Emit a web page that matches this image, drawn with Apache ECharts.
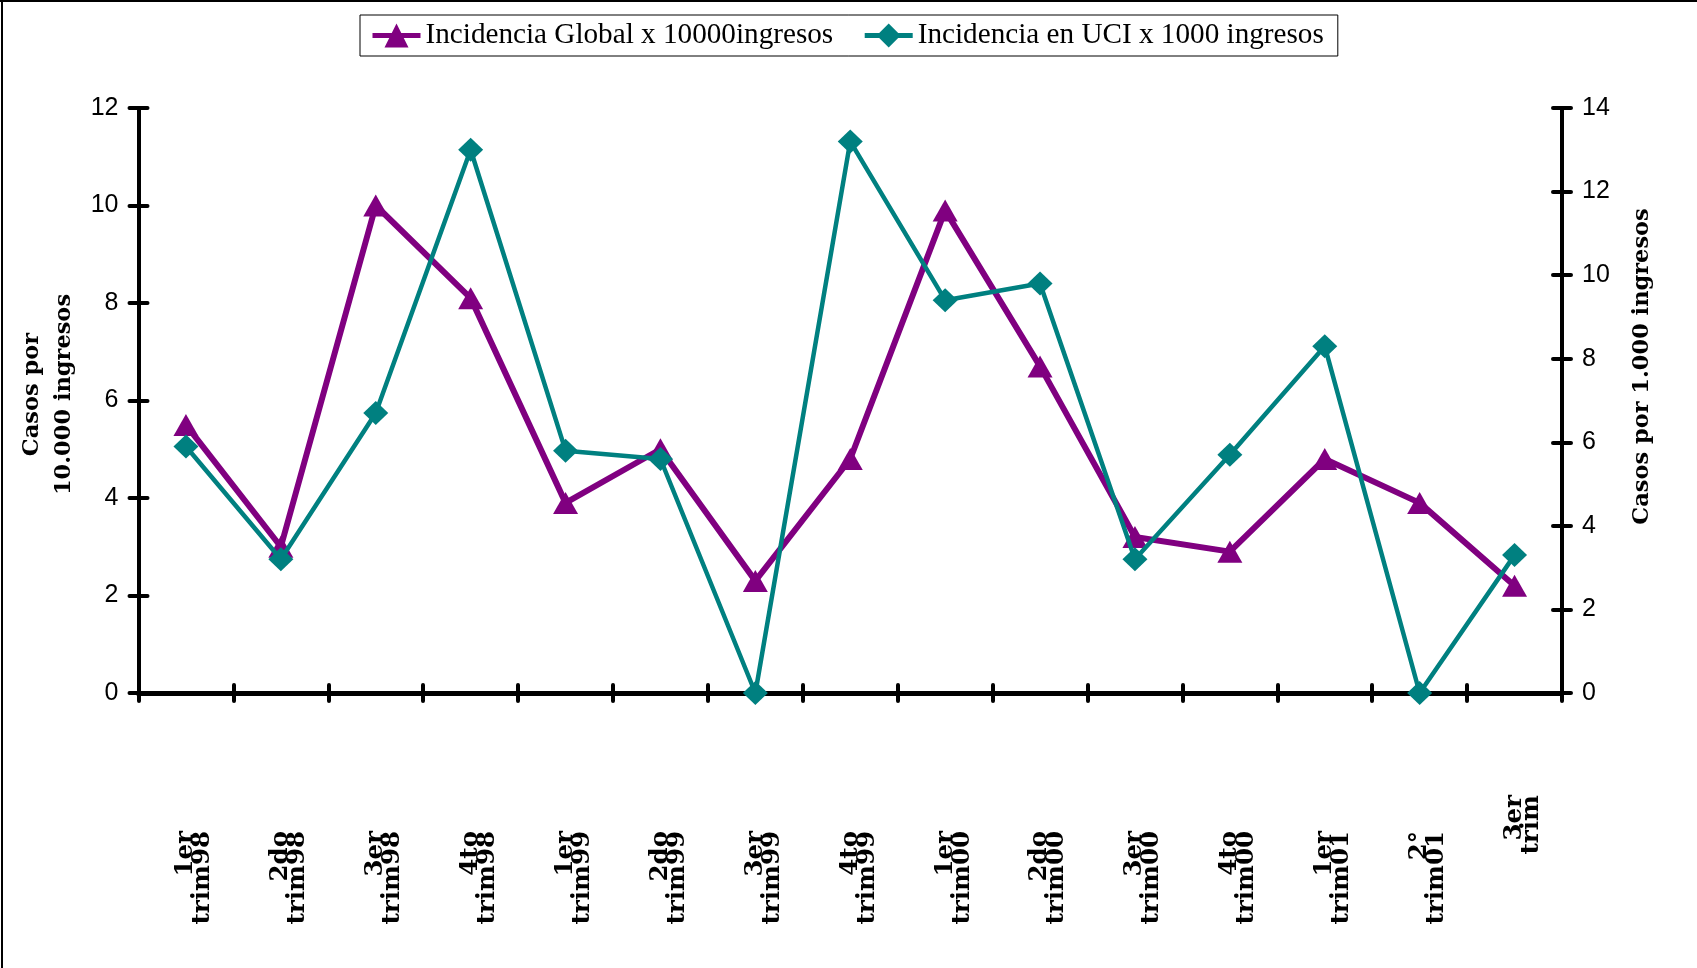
<!DOCTYPE html>
<html>
<head>
<meta charset="utf-8">
<script src="https://cdn.jsdelivr.net/npm/echarts@6/dist/echarts.min.js"></script>
<style>
  html, body { margin: 0; padding: 0; background: #fff; }
  #chart { width: 1697px; height: 968px; }
</style>
</head>
<body>
<div id="chart"></div>
<script>
// Quarterly labels (two lines each)
const categories = [
  '1er\ntrim98', '2do\ntrim98', '3er\ntrim98', '4to\ntrim98',
  '1er\ntrim99', '2do\ntrim99', '3er\ntrim99', '4to\ntrim99',
  '1er\ntrim00', '2do\ntrim00', '3er\ntrim00', '4to\ntrim00',
  '1er\ntrim01', '2°\ntrim01', '3er\ntrim'
];

// Global incidence, cases per 10,000 admissions (left axis)
const globalIncidence = [5.5, 3.0, 10.0, 8.1, 3.9, 5.0, 2.3, 4.8, 9.9, 6.7, 3.2, 2.9, 4.8, 3.9, 2.2];

// ICU incidence, cases per 1,000 admissions (right axis)
const uciIncidence = [5.9, 3.2, 6.7, 13.0, 5.8, 5.6, 0, 13.2, 9.4, 9.8, 3.2, 5.7, 8.3, 0, 3.3];

// Axis scales
const leftAxisMax = 12;
const rightAxisMax = 14;
const axisStep = 2;

const seriesNames = ['Incidencia Global x 10000ingresos', 'Incidencia en UCI x 1000 ingresos'];
const leftTitle = 'Casos por\n10.000 ingresos';
const rightTitle = 'Casos por 1.000 ingresos';

const PURPLE = '#800080';
const TEAL = '#008080';
const SERIF_BOLD = '"DejaVu Serif", serif';
const SANS = '"Liberation Sans", Arial, sans-serif';

const chart = echarts.init(document.getElementById('chart'), null, { renderer: 'canvas' });

// Category entries; the last, shorter label sits closer to the axis
const lastIdx = categories.length - 1;
const categoryItems = categories.map((c, i) => (
  i === lastIdx
    ? { value: c, textStyle: { padding: [0, 0, 0, 0] } }
    : { value: c, textStyle: { padding: [0, 36, 0, 0] } }
));

const axisLineStyle = { color: '#000', width: 4 };
const tickStyle = { color: '#000', width: 4, cap: 'round' };

chart.setOption({
  backgroundColor: '#fff',
  animation: false,
  legend: {
    left: 360,
    top: 15,
    padding: [6, 14, 6, 10],
    itemGap: 29,
    itemWidth: 48,
    itemHeight: 30,
    borderColor: '#000',
    borderWidth: 1,
    borderRadius: 0,
    lineStyle: { width: 5 },
    textStyle: { fontFamily: '"Liberation Serif", serif', fontSize: 29.2, color: '#000' },
    data: seriesNames
  },
  grid: { left: 138.5, right: 135, top: 108, bottom: 275, containLabel: false },
  xAxis: [
    {
      type: 'category',
      data: categoryItems,
      boundaryGap: true,
      position: 'bottom',
      axisLine: { show: true, onZero: false, lineStyle: { color: '#000', width: 5 } },
      axisTick: { show: true, inside: false, length: 8, lineStyle: tickStyle },
      axisLabel: {
        rotate: 90,
        margin: 102,
        interval: 0,
        // leading blank line keeps the first text line centred on its slot
        formatter: (v) => '\n' + v,
        fontFamily: SERIF_BOLD,
        fontWeight: 'bold',
        fontSize: 24.5,
        lineHeight: 17,
        color: '#000'
      },
      splitLine: { show: false }
    },
    {
      type: 'category',
      data: categories,
      boundaryGap: true,
      position: 'bottom',
      offset: 0,
      axisLine: { show: false },
      axisTick: { show: true, inside: true, length: 8, lineStyle: tickStyle },
      axisLabel: { show: false },
      splitLine: { show: false }
    }
  ],
  yAxis: [
    {
      type: 'value',
      position: 'left',
      min: 0, max: leftAxisMax, interval: axisStep,
      name: leftTitle,
      nameLocation: 'middle',
      nameGap: 42,
      nameTextStyle: {
        fontFamily: SERIF_BOLD, fontWeight: 'bold', fontSize: 22.5, lineHeight: 32,
        color: '#000', padding: [0, 0, 0, 12]
      },
      axisLine: { show: true, lineStyle: axisLineStyle },
      axisTick: { show: true, inside: false, length: 9, lineStyle: tickStyle },
      axisLabel: { margin: 20, fontFamily: SANS, fontSize: 25, color: '#000' },
      splitLine: { show: false }
    },
    {
      type: 'value',
      position: 'right',
      min: 0, max: rightAxisMax, interval: axisStep,
      name: rightTitle,
      nameLocation: 'middle',
      nameGap: 69,
      nameRotate: 90,
      nameTextStyle: {
        fontFamily: SERIF_BOLD, fontWeight: 'bold', fontSize: 22.5,
        color: '#000', padding: [0, 0, 0, 68]
      },
      axisLine: { show: true, lineStyle: axisLineStyle },
      axisTick: { show: true, inside: false, length: 9, lineStyle: tickStyle },
      axisLabel: { margin: 20, fontFamily: SANS, fontSize: 25, color: '#000' },
      splitLine: { show: false }
    },
    {
      type: 'value',
      position: 'left',
      min: 0, max: leftAxisMax, interval: axisStep,
      axisLine: { show: false },
      axisTick: { show: true, inside: true, length: 9, lineStyle: tickStyle },
      axisLabel: { show: false },
      splitLine: { show: false }
    },
    {
      type: 'value',
      position: 'right',
      min: 0, max: rightAxisMax, interval: axisStep,
      axisLine: { show: false },
      axisTick: { show: true, inside: true, length: 9, lineStyle: tickStyle },
      axisLabel: { show: false },
      splitLine: { show: false }
    }
  ],
  series: [
    {
      name: seriesNames[0],
      type: 'line',
      xAxisIndex: 0,
      yAxisIndex: 0,
      data: globalIncidence,
      symbol: 'triangle',
      symbolSize: [25, 22],
      showAllSymbol: true,
      lineStyle: { color: PURPLE, width: 6 },
      itemStyle: { color: PURPLE, borderWidth: 0 },
      z: 3
    },
    {
      name: seriesNames[1],
      type: 'line',
      xAxisIndex: 0,
      yAxisIndex: 1,
      data: uciIncidence,
      symbol: 'diamond',
      symbolSize: [25, 24],
      showAllSymbol: true,
      lineStyle: { color: TEAL, width: 4.5 },
      itemStyle: { color: TEAL, borderWidth: 0 },
      z: 4
    }
  ],
  graphic: [
    { type: 'line', shape: { x1: 2, y1: 0, x2: 2, y2: 968 }, style: { stroke: '#000', lineWidth: 2 } },
    { type: 'line', shape: { x1: 0, y1: 1, x2: 1697, y2: 1 }, style: { stroke: '#000', lineWidth: 2 } }
  ]
});
</script>
</body>
</html>
